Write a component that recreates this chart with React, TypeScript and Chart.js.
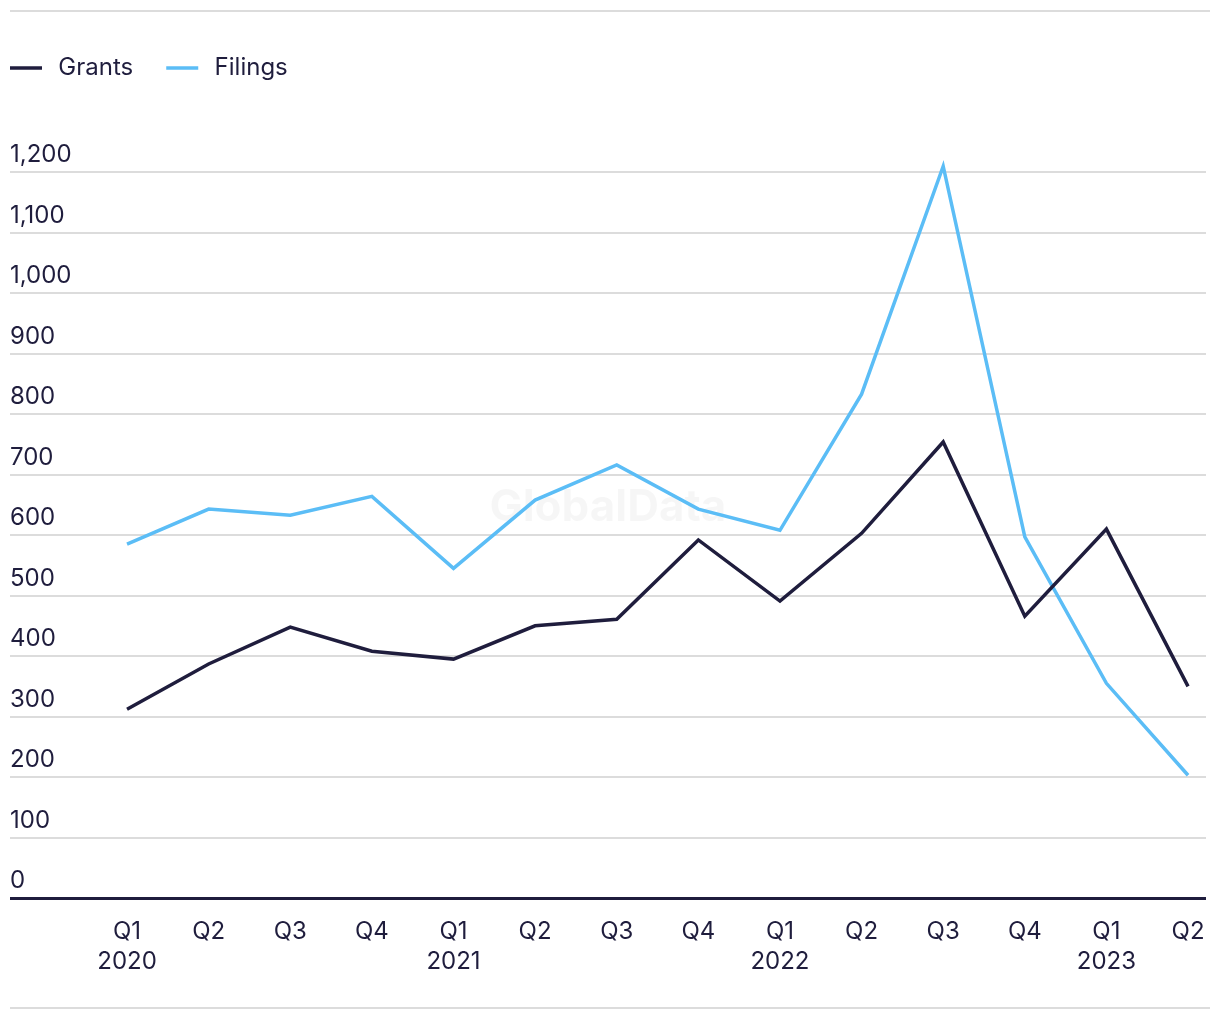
import React, { useEffect, useRef } from "react";
import { Chart, registerables } from "chart.js";

Chart.register(...registerables);

const quarterLabels: string[][] = [
  ["Q1", "2020"], ["Q2"], ["Q3"], ["Q4"],
  ["Q1", "2021"], ["Q2"], ["Q3"], ["Q4"],
  ["Q1", "2022"], ["Q2"], ["Q3"], ["Q4"],
  ["Q1", "2023"], ["Q2"],
];
const grants = [312, 387, 448, 408, 395, 450, 461, 592, 491, 603, 754, 466, 610, 350];
const filings = [585, 643, 633, 664, 545, 658, 716, 643, 608, 833, 1210, 597, 355, 203];
const yTickMax = 1200;

const DARK = "#1f1d3d";
const BLUE = "#5bbdf6";
const GRID = "#dcdcdc";

const legendShift = {
  id: "legendShift",
  afterLayout(chart: any) {
    if (chart.legend) {
      chart.legend.left = -chart.legend.options.labels.padding;
    }
  },
};

const watermark = {
  id: "watermark",
  beforeDatasetsDraw(chart: any) {
    const { ctx, chartArea } = chart;
    ctx.save();
    ctx.font = "bold 44px Inter";
    ctx.fillStyle = "rgba(0,0,0,0.035)";
    ctx.textAlign = "center";
    ctx.textBaseline = "middle";
    ctx.fillText(
      "GlobalData",
      (chartArea.left + chartArea.right) / 2,
      chartArea.top + (chartArea.bottom - chartArea.top) * 0.517
    );
    ctx.restore();
  },
};

export default function App() {
  const ref = useRef<HTMLCanvasElement | null>(null);

  useEffect(() => {
    if (!ref.current) return;
    Chart.defaults.font.family = "Inter";
    Chart.defaults.color = DARK;
    const chart = new Chart(ref.current, {
      type: "line",
      data: {
        datasets: [
          {
            label: "\u2009Grants",
            data: grants.map((v, i) => ({ x: i, y: v })),
            borderColor: DARK,
            backgroundColor: DARK,
            borderWidth: 3.5,
            pointRadius: 0,
            tension: 0,
            borderJoinStyle: "miter",
          },
          {
            label: "\u2009Filings",
            data: filings.map((v, i) => ({ x: i, y: v })),
            borderColor: BLUE,
            backgroundColor: BLUE,
            borderWidth: 3.5,
            pointRadius: 0,
            tension: 0,
            borderJoinStyle: "miter",
          },
        ],
      },
      options: {
        animation: false,
        responsive: true,
        maintainAspectRatio: false,
        layout: { padding: { top: 11, right: 4, bottom: 11, left: 0 } },
        plugins: {
          tooltip: { enabled: false },
          legend: {
            position: "top",
            align: "start",
            labels: {
              usePointStyle: true,
              pointStyle: "line",
              pointStyleWidth: 32,
              padding: 33,
              font: { size: 24 },
              color: DARK,
            },
          },
        },
        scales: {
          x: {
            type: "linear",
            bounds: "data",
            min: -1.434,
            max: 13.22,
            afterBuildTicks: (scale: any) => {
              scale.ticks = quarterLabels.map((_, i) => ({ value: i }));
            },
            afterFit: (scale: any) => {
              scale.paddingLeft = 0;
              scale.paddingRight = 0;
            },
            grid: { display: false, drawTicks: false },
            border: { display: false },
            ticks: {
              autoSkip: false,
              maxRotation: 0,
              padding: 19,
              font: { size: 24, lineHeight: 1.25 },
              color: DARK,
              callback: (v: any) => quarterLabels[v as number],
            },
          },
          y: {
            min: 0,
            max: 1336,
            afterBuildTicks: (scale: any) => {
              scale.ticks = scale.ticks.filter((t: any) => t.value <= yTickMax);
            },
            grid: {
              drawTicks: false,
              color: (c: any) => (c.tick && c.tick.value === 0 ? DARK : GRID),
              lineWidth: (c: any) => (c.tick && c.tick.value === 0 ? 3 : 2),
            },
            border: { display: false },
            ticks: {
              stepSize: 100,
              mirror: true,
              padding: 0,
              labelOffset: -17,
              font: { size: 24 },
              color: DARK,
              callback: (v: any) => Number(v).toLocaleString("en-US"),
            },
          },
        },
      },
      plugins: [legendShift, watermark],
    });
    return () => chart.destroy();
  }, []);

  return (
    <div
      style={{
        margin: "2px 0 0 2px",
        width: 1200,
        borderTop: "2px solid #dcdcdc",
        borderBottom: "2px solid #dcdcdc",
      }}
    >
      <div style={{ position: "relative", width: 1200, height: 995 }}>
        <canvas ref={ref} />
      </div>
    </div>
  );
}
